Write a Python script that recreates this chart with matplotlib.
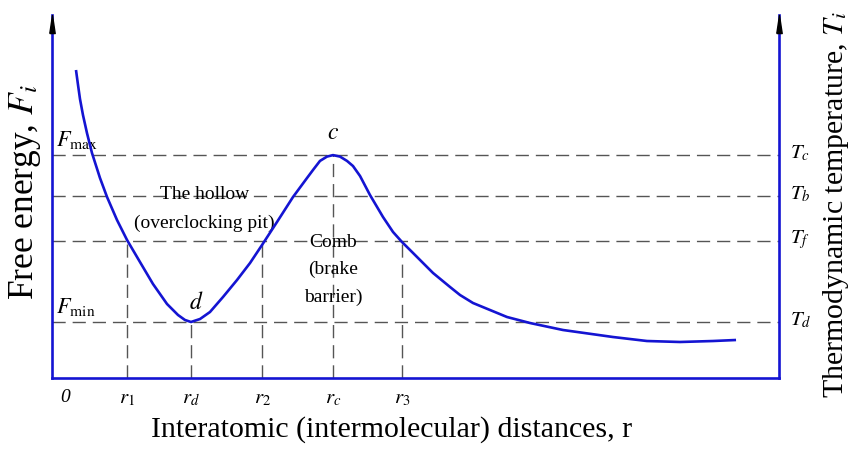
import matplotlib
matplotlib.use("Agg")
import matplotlib.pyplot as plt

plt.rcParams['font.family'] = ['Liberation Serif', 'DejaVu Serif']
plt.rcParams['mathtext.fontset'] = 'stix'

# Curve (x: 0..10 between the two vertical axes, y: 0..10 bottom to arrow tip)
curve_x = [0.330, 0.358, 0.385, 0.426, 0.481, 0.550, 0.660, 0.757, 0.894, 1.032, 1.210,
           1.389, 1.582, 1.733, 1.829, 1.912, 2.036, 2.173, 2.352, 2.545, 2.724, 2.889,
           3.095, 3.315, 3.508, 3.590, 3.686, 3.783, 3.865, 3.961, 4.058, 4.140, 4.237,
           4.374, 4.553, 4.691, 4.814, 4.966, 5.241, 5.475, 5.612, 5.791, 6.025, 6.259,
           6.575, 7.029, 7.717, 8.184, 8.638, 9.092, 9.409]
curve_y = [8.485, 8.072, 7.686, 7.245, 6.749, 6.198, 5.510, 4.986, 4.353, 3.802, 3.196,
           2.590, 2.039, 1.736, 1.598, 1.543, 1.625, 1.818, 2.231, 2.700, 3.168, 3.664,
           4.298, 4.986, 5.510, 5.730, 5.980, 6.100, 6.140, 6.100, 5.980, 5.840, 5.565,
           5.041, 4.435, 4.022, 3.747, 3.444, 2.893, 2.507, 2.287, 2.066, 1.873, 1.680,
           1.515, 1.322, 1.129, 1.019, 0.992, 1.019, 1.047]

# Reference levels
level_names = ['$T_c$', '$T_b$', '$T_f$', '$T_d$']
level_values = [6.14, 5.01, 3.77, 1.54]

# Reference distances and the level each dashed line reaches
r_labels = [r'$r_{\mathit{1}}$', '$r_d$', r'$r_{\mathit{2}}$', '$r_c$', r'$r_{\mathit{3}}$']
r_values = [1.03, 1.91, 2.89, 3.87, 4.81]
r_tops = [3.77, 1.54, 3.77, 6.14, 3.77]

blue = '#1414D2'
gray = '#555555'

fig = plt.figure(figsize=(8.53, 4.49), dpi=100)
ax = fig.add_axes([52/853, 1-378/449, (779-52)/853, (378-15)/449])
ax.set_xlim(0, 10)
ax.set_ylim(0, 10)

for s in ['left', 'bottom', 'right']:
    ax.spines[s].set_color(blue)
    ax.spines[s].set_linewidth(1.9)
ax.spines['top'].set_visible(False)
ax.set_xticks([])
ax.set_yticks([])

dash = (0, (9.5, 5))
ax.hlines(level_values, 0, 10, colors=gray, linewidth=1, linestyles=[dash])
ax.vlines(r_values, 0, r_tops, colors=gray, linewidth=1, linestyles=[dash])

ax.plot(curve_x, curve_y, color=blue, linewidth=1.9, solid_joinstyle='round',
        solid_capstyle='butt', zorder=5)

# arrow heads on vertical axes
arrow = [(-0.3, -2), (0.3, -2), (0, 0), (-0.3, -2)]
for xa in (0, 10):
    ax.plot([xa], [10], marker=arrow, markersize=26, color='black', clip_on=False, zorder=6)

# x tick labels
ax.text(0.12, -0.3, '0', fontsize=14, style='italic', ha='left', va='top')
for lab, xv in zip(r_labels, r_values):
    ax.text(xv, -0.3, lab, fontsize=15, ha='center', va='top')

# right labels
for lab, yv in zip(level_names, level_values):
    ax.text(10.15, yv + 0.05, lab, fontsize=15, ha='left', va='center')

ax.text(0.05, 6.25, r'$F_{\rm max}$', fontsize=16, ha='left', va='bottom')
ax.text(0.05, 1.65, r'$F_{\rm min}$', fontsize=16, ha='left', va='bottom')
ax.text(3.87, 6.45, '$c$', fontsize=17, ha='center', va='bottom')
ax.text(1.98, 1.75, '$d$', fontsize=17, ha='center', va='bottom')

ax.text(2.1, 5.05, 'The hollow', fontsize=14, ha='center', va='center')
ax.text(2.1, 4.25, '(overclocking pit)', fontsize=14, ha='center', va='center')
ax.text(3.87, 3.72, 'Comb', fontsize=14, ha='center', va='center')
ax.text(3.87, 3.0, '(brake', fontsize=14, ha='center', va='center')
ax.text(3.87, 2.22, 'barrier)', fontsize=14, ha='center', va='center')

fig.text(392/853, 1-430/449, 'Interatomic (intermolecular) distances, r', fontsize=21.5,
         ha='center', va='center')
fig.text(25/853, 1-192/449, 'Free energy, $F_i$', fontsize=25.5, rotation=90,
         ha='center', va='center')
fig.text(836/853, 1-205/449, 'Thermodynamic temperature, $T_i$', fontsize=21.5, rotation=90,
         ha='center', va='center')

fig.savefig('out.png', dpi=100)
